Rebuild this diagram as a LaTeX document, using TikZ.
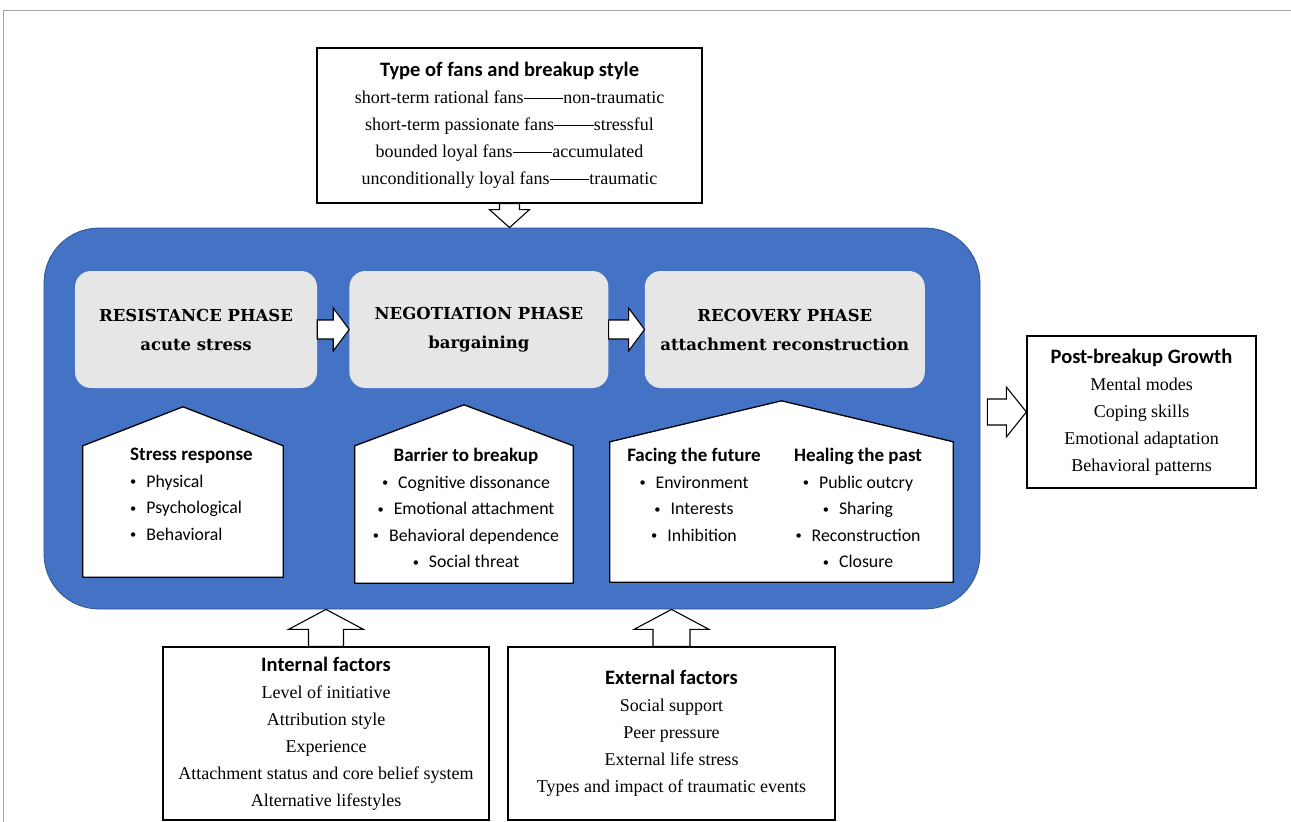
\documentclass[tikz,border=0pt]{standalone}
\usepackage{fontspec}
\setmainfont{Liberation Serif}
\newfontfamily\calfont{Carlito}
\newfontfamily\phasefont{DejaVu Serif}
\usetikzlibrary{calc,positioning}

\definecolor{stageblue}{HTML}{4472C4}
\definecolor{stageedge}{HTML}{2F528F}
\definecolor{phasegray}{HTML}{E7E6E6}
\definecolor{framegray}{HTML}{A6A6A6}

\newcommand{\hd}[1]{{\calfont\bfseries\fontsize{20.5}{27}\selectfont #1}}
\newcommand{\subhd}[1]{{\bfseries\fontsize{19}{26.6}\selectfont #1}}
\newcommand{\longdash}{\rule[0.24em]{2.2em}{0.06em}}
\newcommand{\itm}{\raisebox{1.5pt}{\scalebox{0.7}{\textbullet}}\hspace{10pt}}
% block arrow: from, to, shaft half width, head half width, head length
\newcommand{\fatarrow}[5]{%
  \draw[fat] let \p1=(#1), \p2=(#2), \n1={atan2(\y2-\y1,\x2-\x1)},
    \n2={veclen(\x2-\x1,\y2-\y1)} in [shift={(\p1)}, rotate=\n1]
    (0,-#3) -- ({\n2-#5},-#3) -- ({\n2-#5},-#4) -- (\n2,0)
    -- ({\n2-#5},#4) -- ({\n2-#5},#3) -- (0,#3) -- cycle;}

\begin{document}
\begin{tikzpicture}[
    x=1pt, y=-1pt,
    plainbox/.style={draw, line width=1.3pt, fill=white, align=center,
      inner sep=0pt, font=\fontsize{18}{27}\selectfont},
    phasebox/.style={fill=phasegray, rounded corners=16pt, align=center,
      inner sep=0pt, minimum height=117pt,
      font=\phasefont\bfseries\fontsize{16.5}{29}\selectfont},
    housebody/.style={inner sep=0pt},
    house/.style={draw, line width=1.3pt, fill=white, line join=miter},
    housetext/.style={align=center, inner sep=0pt,
      font=\calfont\fontsize{17.8}{26.6}\selectfont},
    fat/.style={draw, fill=white, line width=1.1pt, line join=miter}
  ]
    \useasboundingbox (0,0) rectangle (1291,822);
    \draw[framegray, line width=1pt] (3,822) -- (3,10.5) -- (1291,10.5);

    \node[plainbox, minimum width=385pt, minimum height=155pt] (fans) at (509.5,125.5)
      {\hd{Type of fans and breakup style}\\
       short-term rational fans\longdash non-traumatic\\
       short-term passionate fans\longdash stressful\\
       bounded loyal fans\longdash accumulated\\
       unconditionally loyal fans\longdash traumatic};

    \node[fill=stageblue, draw=stageedge, line width=0.8pt, rounded corners=55pt,
      minimum width=936pt, minimum height=381pt, inner sep=0pt] (stage) at (512,418.5) {};

    \node[phasebox, minimum width=242pt] (resist) at (196,329.5) {RESISTANCE PHASE\\acute stress};
    \node[phasebox, minimum width=259pt, right=32pt of resist] (negot) {NEGOTIATION PHASE\\bargaining};
    \node[phasebox, minimum width=280pt, right=36pt of negot] (recov) {RECOVERY PHASE\\attachment reconstruction};

    \node[housebody, minimum width=200pt, minimum height=131pt] (stress) at (183,511.5) {};
    \node[housebody, minimum width=218pt, minimum height=137pt] (barrier) at (464,514.5) {};
    \node[housebody, minimum width=343pt, minimum height=140pt] (heal) at (781.5,512) {};
    \foreach \h/\r in {stress/39, barrier/41, heal/41}
      \draw[house] (\h.south west) -- (\h.north west) -- ([yshift=\r pt]\h.north)
        -- (\h.north east) -- (\h.south east) -- cycle;

    \node[housetext, align=left, anchor=north west] (stresstxt) at (130,448)
      {\subhd{Stress response}\\ \itm Physical\\ \itm Psychological\\ \itm Behavioral};
    \node[housetext, anchor=north] (barriertxt) at (466,448)
      {\subhd{Barrier to breakup}\\ \itm Cognitive dissonance\\ \itm Emotional attachment\\
       \itm Behavioral dependence\\ \itm Social threat};
    \node[housetext, anchor=north] (futuretxt) at (694,448)
      {\subhd{Facing the future}\\ \itm Environment\\ \itm Interests\\ \itm Inhibition};
    \node[housetext, anchor=north] (pasttxt) at (858,448)
      {\subhd{Healing the past}\\ \itm Public outcry\\ \itm Sharing\\
       \itm Reconstruction\\ \itm Closure};

    \node[plainbox, minimum width=229pt, minimum height=152pt] (growth) at (1141.5,412)
      {\hd{Post-breakup Growth}\\Mental modes\\Coping skills\\Emotional adaptation\\Behavioral patterns};

    \node[plainbox, minimum width=326pt, minimum height=173pt] (inner) at (326,733.5)
      {\hd{Internal factors}\\Level of initiative\\Attribution style\\Experience\\
       Attachment status and core belief system\\Alternative lifestyles};
    \node[plainbox, minimum width=327pt, minimum height=173pt] (outer) at (671.5,733.5)
      {\hd{External factors}\\Social support\\Peer pressure\\External life stress\\
       Types and impact of traumatic events};

    \coordinate (gtail) at (stage.east |- growth.west);
    \fatarrow{fans.south}{fans.south |- stage.north}{10}{20}{18}
    \fatarrow{resist.east}{negot.west}{9.5}{21.5}{16}
    \fatarrow{negot.east}{recov.west}{9.5}{21.5}{16}
    \fatarrow{[xshift=7pt]gtail}{growth.west}{13}{25}{20}
    \fatarrow{inner.north}{inner.north |- stage.south}{17.5}{37.5}{20}
    \fatarrow{outer.north}{outer.north |- stage.south}{18.5}{37.5}{20}
  \end{tikzpicture}
\end{document}
